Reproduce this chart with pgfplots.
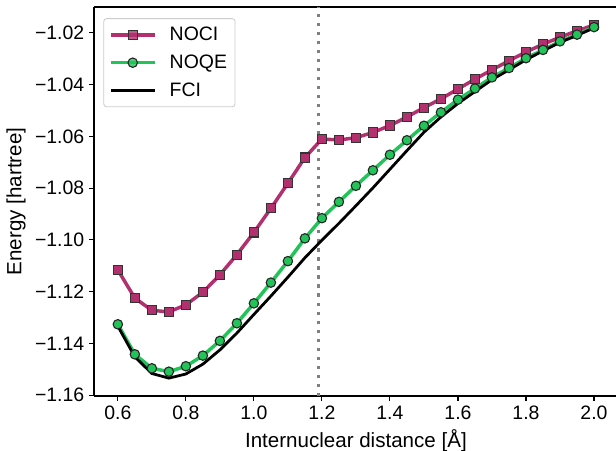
\documentclass[border=0pt]{standalone}
\usepackage{pgfplots}
\pgfplotsset{compat=1.18}
\usepackage{fontspec}
\setmainfont{Liberation Sans}
\definecolor{noci}{RGB}{178,48,110}
\definecolor{noqe}{RGB}{34,196,90}
\definecolor{vline}{RGB}{128,128,128}
\definecolor{legframe}{RGB}{204,204,204}
\pgfplotstableread{
x y
0.60 -1.1116
0.65 -1.1225
0.70 -1.1272
0.75 -1.1278
0.80 -1.1251
0.85 -1.1202
0.90 -1.1135
0.95 -1.1057
1.00 -1.0971
1.05 -1.0878
1.10 -1.0781
1.15 -1.0682
1.20 -1.0610
1.25 -1.0614
1.30 -1.0605
1.35 -1.0585
1.40 -1.0558
1.45 -1.0525
1.50 -1.0489
1.55 -1.0455
1.60 -1.0417
1.65 -1.0379
1.70 -1.0343
1.75 -1.0308
1.80 -1.0274
1.85 -1.0244
1.90 -1.0217
1.95 -1.0192
2.00 -1.0170
}\noci
\pgfplotstableread{
x y
0.60 -1.1326
0.65 -1.1442
0.70 -1.1496
0.75 -1.1509
0.80 -1.1488
0.85 -1.1447
0.90 -1.1390
0.95 -1.1322
1.00 -1.1245
1.05 -1.1165
1.10 -1.1082
1.15 -1.0994
1.20 -1.0916
1.25 -1.0853
1.30 -1.0791
1.35 -1.0731
1.40 -1.0671
1.45 -1.0615
1.50 -1.0559
1.55 -1.0507
1.60 -1.0458
1.65 -1.0415
1.70 -1.0372
1.75 -1.0336
1.80 -1.0298
1.85 -1.0266
1.90 -1.0233
1.95 -1.0207
2.00 -1.0178
}\noqe
\pgfplotstableread{
x y
0.60 -1.1333
0.65 -1.1452
0.70 -1.1516
0.75 -1.1534
0.80 -1.1518
0.85 -1.1480
0.90 -1.1425
0.95 -1.1360
1.00 -1.1288
1.05 -1.1217
1.10 -1.1144
1.15 -1.1069
1.20 -1.1001
1.25 -1.0936
1.30 -1.0868
1.35 -1.0799
1.40 -1.0727
1.45 -1.0655
1.50 -1.0584
1.55 -1.0525
1.60 -1.0473
1.65 -1.0427
1.70 -1.0381
1.75 -1.0343
1.80 -1.0304
1.85 -1.0270
1.90 -1.0237
1.95 -1.0210
2.00 -1.0181
}\fci
\begin{document}
\begin{tikzpicture}
\begin{axis}[
  width=377.1pt, height=280.1pt, scale only axis,
  xmin=0.53, xmax=2.07, ymin=-1.1603, ymax=-1.0100,
  xtick={0.6,0.8,1.0,1.2,1.4,1.6,1.8,2.0},
  xticklabels={0.6,0.8,1.0,1.2,1.4,1.6,1.8,2.0},
  ytick={-1.16,-1.14,-1.12,-1.10,-1.08,-1.06,-1.04,-1.02},
  yticklabels={−1.16,−1.14,−1.12,−1.10,−1.08,−1.06,−1.04,−1.02},
  axis y line*=left,
  axis line style={line width=0.8pt, -},
  tick pos=left,
  tick align=outside, major tick length=3.5pt,
  tick style={black, line width=0.8pt},
  tick label style={font=\fontsize{14}{16}\selectfont},
  label style={font=\fontsize{14.8}{17}\selectfont},
  xlabel={Internuclear distance [Å]},
  ylabel={Energy [hartree]},
  legend cell align=left,
  legend style={at={(0.0178,0.971)}, anchor=north west,
    draw=legframe, rounded corners=2pt, line width=0.6pt,
    fill=white, fill opacity=0.8, text opacity=1,
    font=\fontsize{14}{16}\selectfont, row sep=4.6pt, column sep=7.5pt,
    inner xsep=3.8pt, inner ysep=4.2pt},
  legend image code/.code={\draw[mark repeat=2,mark phase=2] plot coordinates {(0pt,0pt) (15.8pt,0pt) (31.7pt,0pt)};},
]
\addplot[vline, line width=2.2pt, dash pattern=on 2.3pt off 4.2pt, forget plot] coordinates {(1.19,-1.1603) (1.19,-1.0100)};
\addplot[noci, line width=2.5pt, mark=square*, mark size=3.3pt,
  mark options={fill=noci, draw=black!80, line width=0.8pt, solid}] table[x=x,y=y] {\noci};
\addlegendentry{NOCI}
\addplot[noqe, line width=2.5pt, mark=*, mark size=3.4pt,
  mark options={fill=noqe, draw=black!85, line width=0.8pt, solid}] table[x=x,y=y] {\noqe};
\addlegendentry{NOQE}
\addplot[black, line width=2pt, no marks] table[x=x,y=y] {\fci};
\addlegendentry{FCI}
\end{axis}
\pgfresetboundingbox
\path[use as bounding box] ([shift={(-67.7pt,-39.6pt)}]current axis.south west) rectangle ([shift={(-1.3pt,5.0pt)}]current axis.north east);
\end{tikzpicture}
\end{document}
